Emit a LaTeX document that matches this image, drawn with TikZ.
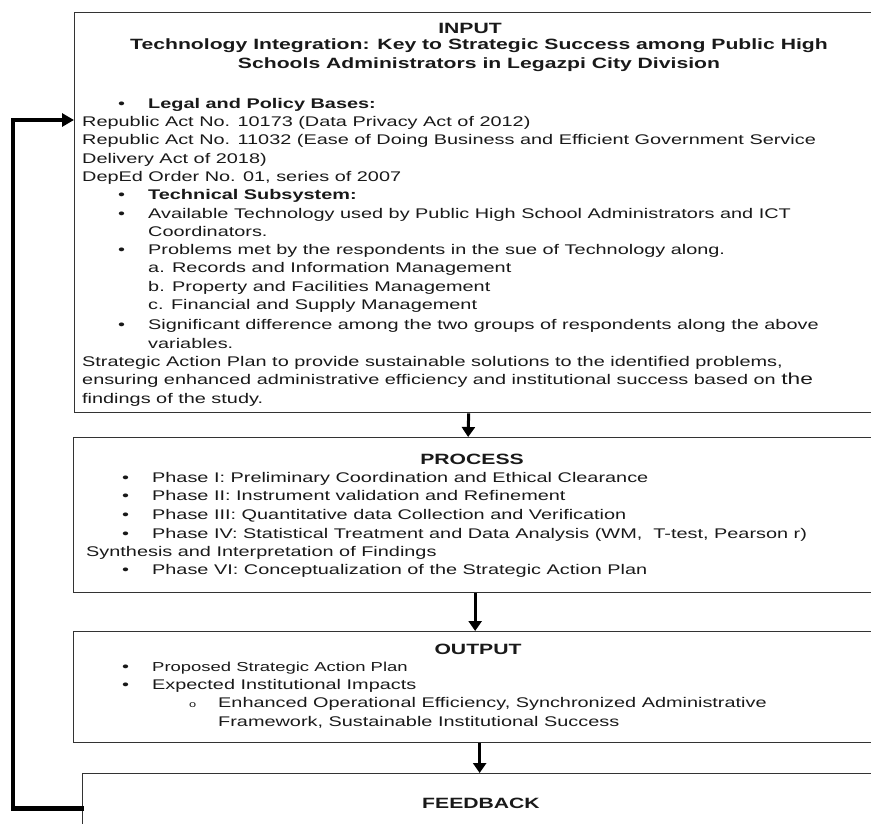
\documentclass[tikz,border=0pt]{standalone}
\usepackage{fontspec}
\setmainfont[FakeStretch=1.42]{Liberation Sans}
\usetikzlibrary{arrows.meta,positioning}

\newcommand{\itm}[1]{\hspace*{36pt}\makebox[30pt][l]{\textbullet}#1}
\newcommand{\subln}[1]{\hspace*{66pt}#1}

\tikzset{
  frame/.style={draw=black!80, line width=1.3pt, anchor=north west, inner sep=0pt},
  body/.style={anchor=north west, inner sep=0pt, align=left, text=black!90,
    font=\fontsize{14}{18.3}\selectfont},
  head/.style={inner sep=0pt, align=center, text=black!90,
    font=\bfseries\fontsize{14.9}{19}\selectfont},
  flow/.style={line width=3pt, -{Triangle[length=10pt,width=13pt]}},
  back/.style={line width=4.5pt},
}

\begin{document}
\begin{tikzpicture}[x=1pt, y=-1pt]
  \useasboundingbox (0,0) rectangle (871,823);
  % Boxes
  \node[frame, minimum width=806pt, minimum height=400pt] (inbox) at (74,12) {};
  \node[frame, minimum width=807pt, minimum height=155pt] (procbox) at (73,437) {};
  \node[frame, minimum width=807pt, minimum height=111pt] (outbox) at (73,631) {};
  \node[frame, minimum width=798pt, minimum height=70pt] (fbbox) at (82,773) {};
  % Input
  \node[head, anchor=base] (inhead) at (470,33) {INPUT};
  \node[head, anchor=north] (intitle) at (479,38.5) {Technology Integration: Key to Strategic Success among Public High\\
    Schools Administrators in Legazpi City Division};
  \node[body] (inlist) at (82,94) {\rule{0pt}{14pt}\itm{\textbf{Legal and Policy Bases:}}\\
    Republic Act No. 10173 (Data Privacy Act of 2012)\\
    Republic Act No. 11032 (Ease of Doing Business and Efficient Government Service\\
    Delivery Act of 2018)\\
    DepEd Order No. 01, series of 2007\\
    \itm{\textbf{Technical Subsystem:}}\\
    \itm{Available Technology used by Public High School Administrators and ICT}\\
    \subln{Coordinators.}\\
    \itm{Problems met by the respondents in the sue of Technology along.}\\
    \subln{a. Records and Information Management}\\
    \subln{b. Property and Facilities Management}\\
    \subln{c. Financial and Supply Management}\\[2pt]
    \itm{Significant difference among the two groups of respondents along the above}\\
    \subln{variables.}\\
    Strategic Action Plan to provide sustainable solutions to the identified problems,\\
    ensuring enhanced administrative efficiency and institutional success based on {\fontsize{16}{18.3}\selectfont the}\\
    findings of the study.};
  % Process
  \node[head, anchor=base] (prochead) at (472,464) {PROCESS};
  \node[body] (proclist) at (86,468) {\rule{0pt}{14pt}\itm{Phase I: Preliminary Coordination and Ethical Clearance}\\
    \itm{Phase II: Instrument validation and Refinement}\\[1pt]
    \itm{Phase III: Quantitative data Collection and Verification}\\
    \itm{Phase IV: Statistical Treatment and Data Analysis (WM,\ \ T-test, Pearson r)}\\
    Synthesis and Interpretation of Findings\\
    \itm{Phase VI: Conceptualization of the Strategic Action Plan}};
  % Output
  \node[head, anchor=base] (outhead) at (478,654) {OUTPUT};
  \node[body] (outlist) at (86,657) {\rule{0pt}{14pt}\itm{{\fontsize{13}{18.3}\selectfont Proposed Strategic Action Plan}}\\
    \itm{Expected Institutional Impacts}\\
    \hspace*{103pt}\makebox[29pt][l]{\small o}Enhanced Operational Efficiency, Synchronized Administrative\\
    \hspace*{132pt}Framework, Sustainable Institutional Success};
  % Feedback
  \node[head, anchor=base] (fbhead) at (481,808) {FEEDBACK};
  \coordinate (loopin) at (74,120);
  % Arrows
  \draw[flow] ([xshift=-9pt]inbox.south) -- ([xshift=-9pt]procbox.north);
  \draw[flow] ([xshift=-2pt]procbox.south) -- ([xshift=-2pt]outbox.north);
  \draw[flow] ([xshift=-2pt]fbbox.north |- outbox.south) -- ([xshift=-2pt]fbbox.north);
  \draw[back, line cap=rect] (fbbox.west) -- ++(-69,0) |- ([xshift=-12pt]loopin);
  \draw[line width=3.5pt, -{Triangle[length=12pt,width=13pt]}] ([xshift=-14pt]loopin) -- (loopin);
\end{tikzpicture}
\end{document}
